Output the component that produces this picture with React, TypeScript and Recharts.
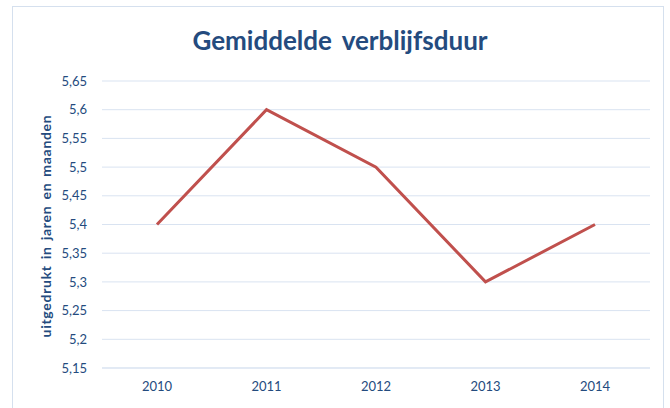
import React from 'react';
import { LineChart, Line, XAxis, YAxis, CartesianGrid } from 'recharts';

const years = ['2010', '2011', '2012', '2013', '2014'];
const duur = [5.4, 5.6, 5.5, 5.3, 5.4];
const yTicks = [5.15, 5.2, 5.25, 5.3, 5.35, 5.4, 5.45, 5.5, 5.55, 5.6, 5.65];
const bandEdges = [0, 1, 2, 3, 4, 5];

const data = years.map((year, i) => ({ year, duur: duur[i] }));

const blue = '#244B7E';
const font = 'Lato, "Open Sans", sans-serif';

const App = () => {
    return (
        <div style={{ position: 'absolute', left: 0, top: 0, width: 670, height: 408, background: '#fff', overflow: 'hidden', fontFamily: font }}>
            <div style={{ position: 'absolute', left: 12, top: 6, width: 652, height: 420, border: '1px solid #D5E0EE', boxSizing: 'border-box' }} />
            <div style={{ position: 'absolute', left: 0, top: 24, width: 680, textAlign: 'center', fontSize: 26, fontWeight: 700, color: blue, wordSpacing: 4 }}>
                Gemiddelde verblijfsduur
            </div>
            <div
                style={{
                    position: 'absolute', left: 45, top: 226, transform: 'translate(-50%, -50%) rotate(-90deg)',
                    whiteSpace: 'nowrap', fontSize: 14, fontWeight: 700, color: blue, letterSpacing: 0.7, wordSpacing: 2,
                }}
            >
                uitgedrukt in jaren en maanden
            </div>
            <LineChart width={670} height={408} data={data} margin={{ top: 81, right: 20, left: 52, bottom: 10 }} style={{ position: 'absolute', left: 0, top: 0 }}>
                <CartesianGrid vertical={false} stroke="#D9E3F1" />
                <XAxis
                    xAxisId="edges"
                    type="number"
                    domain={[0, 5]}
                    ticks={bandEdges}
                    interval={0}
                    height={0}
                    axisLine={false}
                    tick={() => <g />}
                    tickSize={5}
                    tickLine={{ stroke: '#D0DCEC' }}
                />
                <XAxis
                    dataKey="year"
                    height={30}
                    padding={{ left: 55, right: 55 }}
                    axisLine={{ stroke: '#D9E3F1' }}
                    tickLine={false}
                    tick={{ fill: blue, fontSize: 13, fontFamily: font }}
                    tickMargin={8}
                />
                <YAxis
                    width={50}
                    domain={[5.15, 5.65]}
                    ticks={yTicks}
                    interval={0}
                    axisLine={false}
                    tickLine={false}
                    tickMargin={9}
                    tick={{ fill: blue, fontSize: 13, fontFamily: font }}
                    tickFormatter={(v: number) => String(v).replace('.', ',')}
                />
                <Line type="linear" dataKey="duur" stroke="#C0504D" strokeWidth={3} dot={false} isAnimationActive={false} />
            </LineChart>
        </div>
    );
};

export default App;
